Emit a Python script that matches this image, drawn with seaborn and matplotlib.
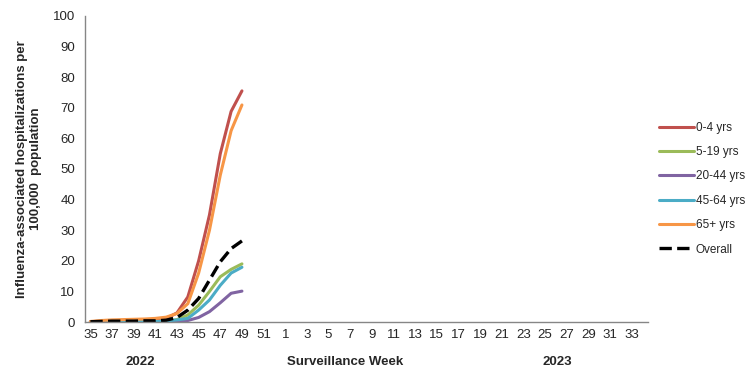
import matplotlib
matplotlib.use('Agg')
import matplotlib.pyplot as plt
import numpy as np
import pandas as pd
import seaborn as sns

# Surveillance weeks: 35-52 of 2022, then 1-34 of 2023
weeks = list(range(35, 53)) + list(range(1, 35))
tick_labels = [str(w) if i % 2 == 0 else '' for i, w in enumerate(weeks)]

# Rates per 100,000, weeks 35-49 of 2022
age_0_4 = [0.1, 0.3, 0.4, 0.5, 0.6, 0.7, 0.9, 1.2, 3.0, 8.2, 20.0, 35.0, 55.0, 68.8, 75.5]
age_5_19 = [0.0, 0.1, 0.1, 0.1, 0.1, 0.1, 0.2, 0.3, 0.8, 2.3, 5.5, 10.0, 14.8, 17.2, 19.0]
age_20_44 = [0.0, 0.1, 0.1, 0.1, 0.1, 0.1, 0.1, 0.1, 0.3, 0.5, 1.5, 3.4, 6.3, 9.4, 10.1]
age_45_64 = [0.1, 0.1, 0.1, 0.2, 0.2, 0.2, 0.2, 0.3, 0.7, 1.2, 3.9, 7.2, 12.0, 16.0, 17.9]
age_65 = [0.2, 0.5, 0.7, 0.8, 0.9, 1.0, 1.2, 1.6, 2.8, 6.0, 16.0, 30.0, 48.0, 62.5, 70.9]
overall = [0.1, 0.2, 0.3, 0.3, 0.3, 0.4, 0.4, 0.6, 1.5, 3.9, 7.7, 13.7, 19.7, 24.0, 26.5]

series = {
    '0-4 yrs': (age_0_4, '#C0504D', '-'),
    '5-19 yrs': (age_5_19, '#9BBB59', '-'),
    '20-44 yrs': (age_20_44, '#8064A2', '-'),
    '45-64 yrs': (age_45_64, '#4BACC6', '-'),
    '65+ yrs': (age_65, '#F79646', '-'),
    'Overall': (overall, 'black', '--'),
}

sns.set_style('white')
plt.rcParams['font.family'] = ['Liberation Sans', 'DejaVu Sans']

fig = plt.figure(figsize=(7.56, 3.78), dpi=100)
ax = fig.add_axes([0.1124, 0.148, 0.7446, 0.810])

for name, (vals, color, ls) in series.items():
    x = np.arange(len(vals))
    sns.lineplot(x=x, y=vals, color=color, linestyle=ls, linewidth=2.2 if ls == '-' else 2.4,
                 label=name, ax=ax, legend=False)

ax.set_xlim(-0.5, len(weeks) - 0.5)
ax.set_ylim(0, 100)
ax.set_yticks(range(0, 101, 10))
ax.set_xticks(np.arange(len(weeks)))
ax.set_xticklabels(tick_labels, fontsize=9.5)
ax.set_xticks(np.arange(len(weeks) + 1) - 0.5, minor=True)
ax.tick_params(axis='x', which='major', length=0, pad=5)
ax.tick_params(axis='x', which='minor', length=4, color='#868686', direction='out')
ax.tick_params(axis='y', length=4, color='#868686', direction='out', labelsize=9.5, pad=3)

for s in ['top', 'right']:
    ax.spines[s].set_visible(False)
for s in ['left', 'bottom']:
    ax.spines[s].set_color('#868686')
    ax.spines[s].set_linewidth(1)

ax.set_ylabel('Influenza-associated hospitalizations per\n100,000  population',
              fontsize=9.5, fontweight='bold', labelpad=8)

fig.text(140 / 756, 1 - 362 / 378, '2022', ha='center', va='center', fontsize=9.5, fontweight='bold')
fig.text(345 / 756, 1 - 362 / 378, 'Surveillance Week', ha='center', va='center', fontsize=9.5, fontweight='bold')
fig.text(557 / 756, 1 - 362 / 378, '2023', ha='center', va='center', fontsize=9.5, fontweight='bold')

handles, labels = ax.get_legend_handles_labels()
fig.legend(handles, labels, loc='center left', bbox_to_anchor=(0.858, 0.501),
           frameon=False, fontsize=8.5, handlelength=2.9, handletextpad=0.2,
           labelspacing=1.05)

fig.savefig('out.png', dpi=100)
